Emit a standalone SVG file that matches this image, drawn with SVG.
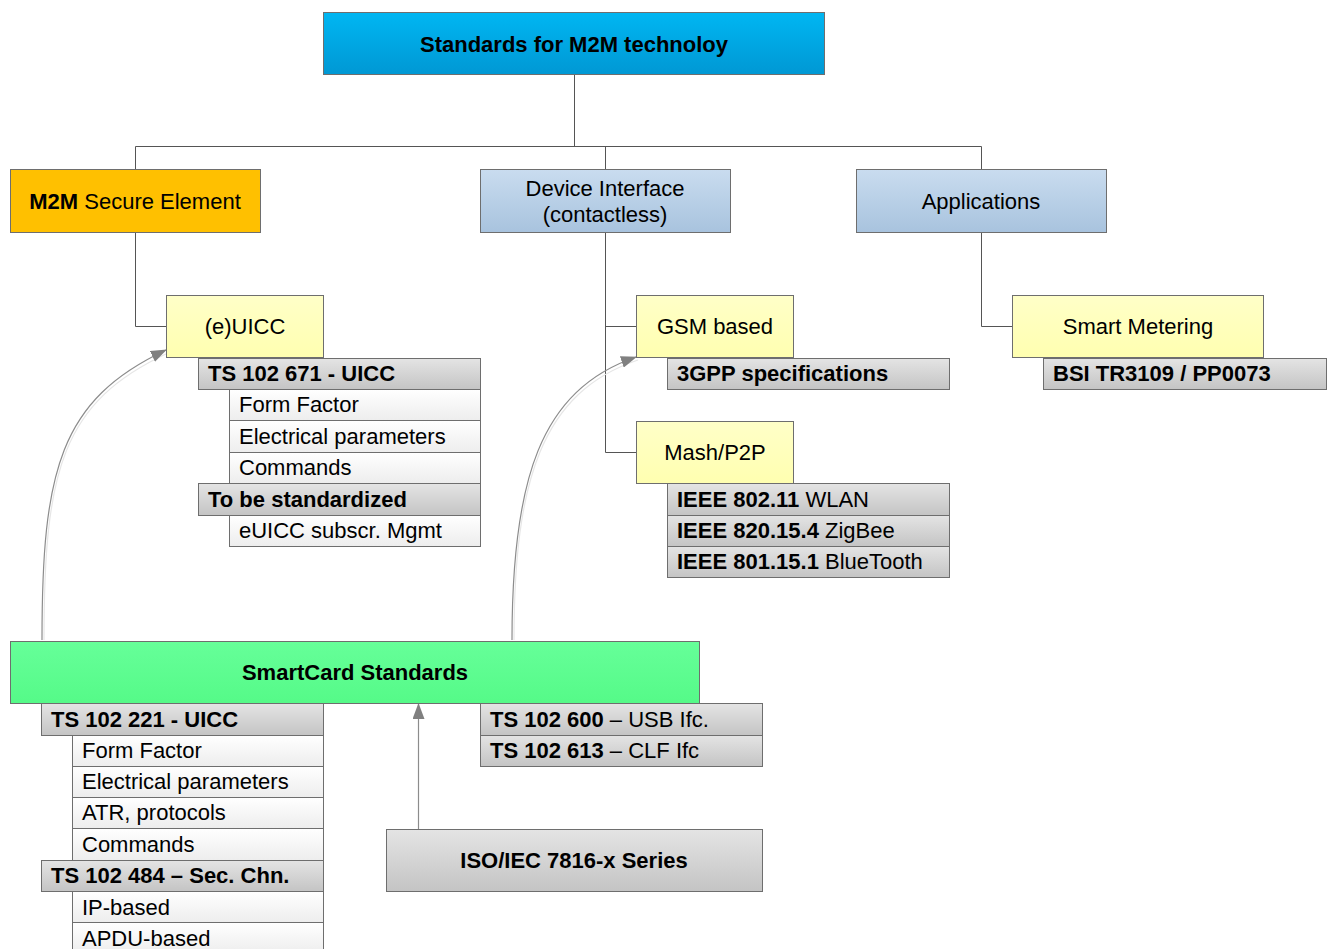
<svg xmlns="http://www.w3.org/2000/svg" width="1333" height="949" viewBox="0 0 1333 949">
  <defs>
    <linearGradient id="gBlue" x1="0" y1="0" x2="0" y2="1">
      <stop offset="0" stop-color="#00b6f2"/>
      <stop offset="1" stop-color="#0098d4"/>
    </linearGradient>
    <linearGradient id="gLightBlue" x1="0" y1="0" x2="0" y2="1">
      <stop offset="0" stop-color="#c9dcef"/>
      <stop offset="1" stop-color="#a8c3de"/>
    </linearGradient>
    <linearGradient id="gYellow" x1="0" y1="0" x2="0" y2="1">
      <stop offset="0" stop-color="#ffffc8"/>
      <stop offset="1" stop-color="#ffffb0"/>
    </linearGradient>
    <linearGradient id="gGray" x1="0" y1="0" x2="0" y2="1">
      <stop offset="0" stop-color="#e4e4e4"/>
      <stop offset="1" stop-color="#c4c4c4"/>
    </linearGradient>
    <linearGradient id="gWhite" x1="0" y1="0" x2="0" y2="1">
      <stop offset="0" stop-color="#ffffff"/>
      <stop offset="1" stop-color="#ededed"/>
    </linearGradient>
    <linearGradient id="gGreen" x1="0" y1="0" x2="0" y2="1">
      <stop offset="0" stop-color="#66ff99"/>
      <stop offset="1" stop-color="#55fa88"/>
    </linearGradient>
    <marker id="arrow" viewBox="0 0 16 12" refX="15" refY="6" markerWidth="16" markerHeight="12" markerUnits="userSpaceOnUse" orient="auto">
      <path d="M0,0 L16,6 L0,12 Z" fill="#808080"/>
    </marker>
    <style>
      text { font-family: "Liberation Sans", Arial, sans-serif; font-size: 22px; fill: #000; }
      .b { font-weight: bold; }
      .c { text-anchor: middle; }
      rect { stroke: #6e6e6e; stroke-width: 1; }
      .blue { fill: url(#gBlue); }
      .lblue { fill: url(#gLightBlue); }
      .yel { fill: url(#gYellow); }
      .gray { fill: url(#gGray); }
      .white { fill: url(#gWhite); }
      .green { fill: url(#gGreen); }
      .orange { fill: #ffc000; }
      .tree { fill: none; stroke: #555; stroke-width: 1; }
      .flow { fill: none; stroke: #8c8c8c; stroke-width: 1.2; }
      .halo { fill: none; stroke: #e6e6e6; stroke-width: 1.2; }
    </style>
  </defs>

  <!-- hierarchy connectors -->
  <g id="connectors">
    <path class="tree" d="M574.5,75 V146.5 M135.5,169 V146.5 H981.5 V169 M605.5,146.5 V169"/>
    <path class="tree" d="M135.5,232 V326.5 H166"/>
    <path class="tree" d="M605.5,232 V452.5 H636 M605.5,326.5 H636"/>
    <path class="tree" d="M981.5,232 V326.5 H1012"/>
    <!-- dependency arrows -->
    <path class="halo" d="M44,640 C44,470 62,402 168,353"/>
    <path class="flow" d="M42,640 C42,470 60,400 166,350" marker-end="url(#arrow)"/>
    <path class="halo" d="M514,640 C514,480 542,392 638,360"/>
    <path class="flow" d="M512,640 C512,480 540,390 636,357" marker-end="url(#arrow)"/>
    <path class="flow" d="M418.5,829 V704" marker-end="url(#arrow)"/>
  </g>

  <g id="root">
    <rect class="blue" x="323.5" y="12.5" width="501" height="62"/>
    <text class="b c" x="574" y="52">Standards for M2M technoloy</text>
  </g>

  <g id="secure-element">
    <rect class="orange" x="10.5" y="169.5" width="250" height="63"/>
    <text class="c" x="135" y="209"><tspan class="b">M2M</tspan> Secure Element</text>
  </g>

  <g id="device-interface">
    <rect class="lblue" x="480.5" y="169.5" width="250" height="63"/>
    <text class="c" x="605" y="196">Device Interface</text>
    <text class="c" x="605" y="222">(contactless)</text>
  </g>

  <g id="applications">
    <rect class="lblue" x="856.5" y="169.5" width="250" height="63"/>
    <text class="c" x="981" y="209">Applications</text>
  </g>

  <g id="euicc">
    <rect class="yel" x="166.5" y="295.5" width="157" height="62"/>
    <text class="c" x="245" y="334">(e)UICC</text>
    <rect class="gray" x="198.5" y="358.5" width="282" height="31"/>
    <text class="b" x="208" y="381">TS 102 671 - UICC</text>
    <rect class="white" x="229.5" y="389.5" width="251" height="31"/>
    <text x="239" y="412">Form Factor</text>
    <rect class="white" x="229.5" y="420.5" width="251" height="32"/>
    <text x="239" y="444">Electrical parameters</text>
    <rect class="white" x="229.5" y="452.5" width="251" height="31"/>
    <text x="239" y="475">Commands</text>
    <rect class="gray" x="198.5" y="483.5" width="282" height="32"/>
    <text class="b" x="208" y="507">To be standardized</text>
    <rect class="white" x="229.5" y="515.5" width="251" height="31"/>
    <text x="239" y="538">eUICC subscr. Mgmt</text>
  </g>

  <g id="gsm">
    <rect class="yel" x="636.5" y="295.5" width="157" height="62"/>
    <text class="c" x="715" y="334">GSM based</text>
    <rect class="gray" x="667.5" y="358.5" width="282" height="31"/>
    <text class="b" x="677" y="381">3GPP specifications</text>
  </g>

  <g id="mesh">
    <rect class="yel" x="636.5" y="421.5" width="157" height="62"/>
    <text class="c" x="715" y="460">Mash/P2P</text>
    <rect class="gray" x="667.5" y="483.5" width="282" height="32"/>
    <text x="677" y="507"><tspan class="b">IEEE 802.11</tspan> WLAN</text>
    <rect class="gray" x="667.5" y="515.5" width="282" height="31"/>
    <text x="677" y="538"><tspan class="b">IEEE 820.15.4</tspan> ZigBee</text>
    <rect class="gray" x="667.5" y="546.5" width="282" height="31"/>
    <text x="677" y="569"><tspan class="b">IEEE 801.15.1</tspan> BlueTooth</text>
  </g>

  <g id="smart-metering">
    <rect class="yel" x="1012.5" y="295.5" width="251" height="62"/>
    <text class="c" x="1138" y="334">Smart Metering</text>
    <rect class="gray" x="1043.5" y="358.5" width="283" height="31"/>
    <text class="b" x="1053" y="381">BSI TR3109 / PP0073</text>
  </g>

  <g id="smartcard">
    <rect class="green" x="10.5" y="641.5" width="689" height="62"/>
    <text class="b c" x="355" y="680">SmartCard Standards</text>
    <rect class="gray" x="41.5" y="703.5" width="282" height="32"/>
    <text class="b" x="51" y="727">TS 102 221 - UICC</text>
    <rect class="white" x="72.5" y="735.5" width="251" height="31"/>
    <text x="82" y="758">Form Factor</text>
    <rect class="white" x="72.5" y="766.5" width="251" height="31"/>
    <text x="82" y="789">Electrical parameters</text>
    <rect class="white" x="72.5" y="797.5" width="251" height="31"/>
    <text x="82" y="820">ATR, protocols</text>
    <rect class="white" x="72.5" y="828.5" width="251" height="32"/>
    <text x="82" y="852">Commands</text>
    <rect class="gray" x="41.5" y="860.5" width="282" height="31"/>
    <text class="b" x="51" y="883">TS 102 484 – Sec. Chn.</text>
    <rect class="white" x="72.5" y="891.5" width="251" height="31"/>
    <text x="82" y="915">IP-based</text>
    <rect class="white" x="72.5" y="922.5" width="251" height="31"/>
    <text x="82" y="946">APDU-based</text>
    <rect class="gray" x="480.5" y="703.5" width="282" height="32"/>
    <text x="490" y="727"><tspan class="b">TS 102 600</tspan> – USB Ifc.</text>
    <rect class="gray" x="480.5" y="735.5" width="282" height="31"/>
    <text x="490" y="758"><tspan class="b">TS 102 613</tspan> – CLF Ifc</text>
  </g>

  <g id="iso7816">
    <rect class="gray" x="386.5" y="829.5" width="376" height="62"/>
    <text class="b c" x="574" y="868">ISO/IEC 7816-x Series</text>
  </g>
</svg>
